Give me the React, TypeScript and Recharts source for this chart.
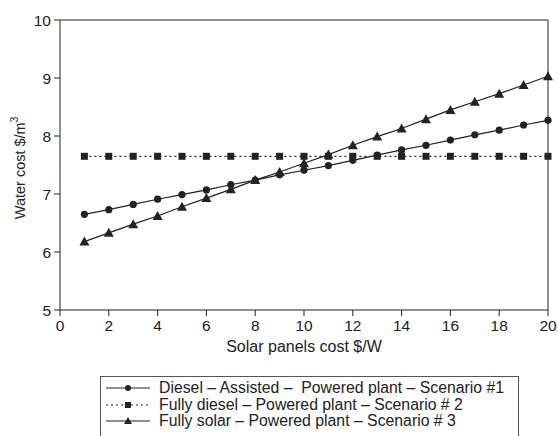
import { LineChart, Line, XAxis, YAxis, Legend, ReferenceLine } from 'recharts';

const panelCost = [1, 2, 3, 4, 5, 6, 7, 8, 9, 10, 11, 12, 13, 14, 15, 16, 17, 18, 19, 20];
const scenario1 = [6.65, 6.73, 6.82, 6.91, 6.99, 7.07, 7.16, 7.24, 7.33, 7.41, 7.49, 7.58, 7.67, 7.76, 7.84, 7.93, 8.02, 8.1, 8.19, 8.27];
const scenario2 = [7.65, 7.65, 7.65, 7.65, 7.65, 7.65, 7.65, 7.65, 7.65, 7.65, 7.65, 7.65, 7.65, 7.65, 7.65, 7.65, 7.65, 7.65, 7.65, 7.65];
const scenario3 = [6.18, 6.33, 6.48, 6.62, 6.78, 6.93, 7.08, 7.24, 7.38, 7.53, 7.68, 7.84, 7.99, 8.13, 8.29, 8.45, 8.59, 8.73, 8.88, 9.03];
const xTicks = [0, 2, 4, 6, 8, 10, 12, 14, 16, 18, 20];
const yTicks = [5, 6, 7, 8, 9, 10];
const seriesNames = [
  'Diesel \u2013 Assisted \u2013  Powered plant \u2013 Scenario #1',
  'Fully diesel \u2013 Powered plant \u2013 Scenario # 2',
  'Fully solar \u2013 Powered plant \u2013 Scenario # 3',
];

const data = panelCost.map((x, i) => ({ x, s1: scenario1[i], s2: scenario2[i], s3: scenario3[i] }));

const INK = '#222';
const FONT = '"Liberation Sans", Arial, Helvetica, sans-serif';

const CircleDot = (p: any) => <circle key={p.index} cx={p.cx} cy={p.cy} r={3.6} fill={INK} />;
const SquareDot = (p: any) => <rect key={p.index} x={p.cx - 3.5} y={p.cy - 3.5} width={7} height={7} fill={INK} />;
const TriDot = (p: any) => (
  <path key={p.index} d={`M${p.cx},${p.cy - 5} L${p.cx + 5},${p.cy + 4} L${p.cx - 5},${p.cy + 4} Z`} fill={INK} />
);

const YLabel = () => (
  <text x={20} y={168} transform="rotate(-90 20 168)" textAnchor="middle" dominantBaseline="central" fontSize={14.5} fill={INK} fontFamily={FONT}>
    Water cost $/m<tspan dy={-6} fontSize={10}>3</tspan>
  </text>
);

const LegendBox = () => {
  const samples = [
    <g>
      <line x1={0} y1={6} x2={44} y2={6} stroke={INK} strokeWidth={1.2} />
      <circle cx={22} cy={6} r={3} fill={INK} />
    </g>,
    <g>
      <line x1={0} y1={6} x2={44} y2={6} stroke={INK} strokeWidth={1.2} strokeDasharray="2 3" />
      <rect x={19} y={3} width={6} height={6} fill={INK} />
    </g>,
    <g>
      <line x1={0} y1={6} x2={44} y2={6} stroke={INK} strokeWidth={1.2} />
      <path d="M22,2 L26,9 L18,9 Z" fill={INK} />
    </g>,
  ];
  return (
    <div style={{ border: '1px solid #555', width: 419, height: 80, boxSizing: 'border-box', padding: '3px 0 0 5px', fontFamily: FONT, fontSize: 15.8, color: INK }}>
      {seriesNames.map((name, i) => (
        <div key={name} style={{ display: 'flex', alignItems: 'center', height: 16.6 }}>
          <svg width={44} height={12} style={{ marginRight: 9 }}>{samples[i]}</svg>
          <span style={{ whiteSpace: 'pre' }}>{name}</span>
        </div>
      ))}
    </div>
  );
};

export default function App() {
  return (
    <div style={{ position: 'absolute', left: 0, top: 0, width: 558, height: 436, overflow: 'hidden', background: '#fff' }}>
      <LineChart width={558} height={436} data={data} margin={{ top: 20, right: 10, left: 0, bottom: 96 }}>
        <XAxis
          dataKey="x"
          type="number"
          domain={[0, 20]}
          ticks={xTicks}
          height={30}
          tickMargin={4}
          stroke={INK}
          tick={{ fill: INK, fontSize: 15.5, fontFamily: FONT }}
          label={{ value: 'Solar panels cost $/W', position: 'bottom', offset: 1, fill: INK, fontSize: 16, fontFamily: FONT }}
        />
        <YAxis
          type="number"
          domain={[5, 10]}
          ticks={yTicks}
          width={60}
          tickMargin={3}
          stroke={INK}
          tick={{ fill: INK, fontSize: 15.5, fontFamily: FONT }}
          label={<YLabel />}
        />
        <ReferenceLine y={10} stroke={INK} />
        <ReferenceLine x={20} stroke={INK} />
        <Line dataKey="s2" stroke={INK} strokeWidth={1.2} strokeDasharray="2 3" dot={SquareDot} activeDot={false} isAnimationActive={false} />
        <Line dataKey="s1" stroke={INK} strokeWidth={1.2} dot={CircleDot} activeDot={false} isAnimationActive={false} />
        <Line dataKey="s3" stroke={INK} strokeWidth={1.2} dot={TriDot} activeDot={false} isAnimationActive={false} />
        <Legend layout="horizontal" verticalAlign="middle" align="center" wrapperStyle={{ left: 100, top: 376 }} content={<LegendBox />} />
      </LineChart>
    </div>
  );
}
